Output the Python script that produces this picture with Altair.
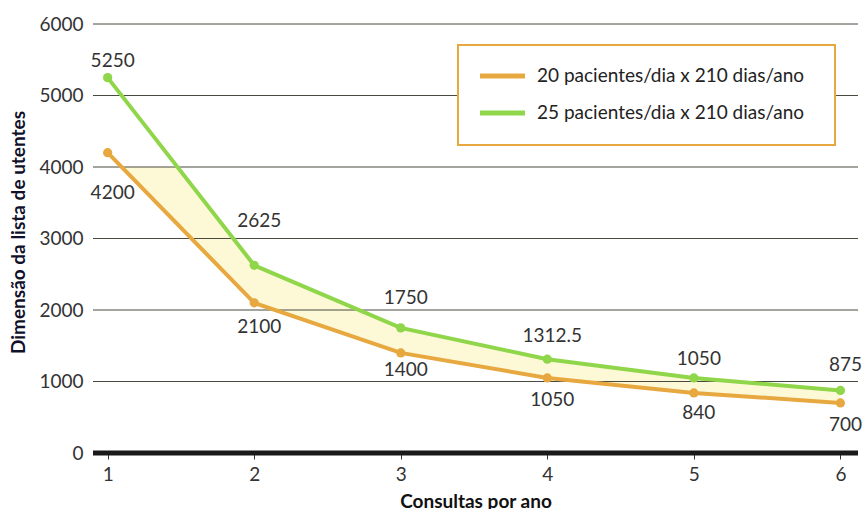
import altair as alt
import pandas as pd

# Consultations per year vs. resulting patient list size
consultas = [1, 2, 3, 4, 5, 6]
lista_20 = [4200, 2100, 1400, 1050, 840, 700]
lista_25 = [5250, 2625, 1750, 1312.5, 1050, 875]
series_names = ["20 pacientes/dia x 210 dias/ano", "25 pacientes/dia x 210 dias/ano"]
y_ticks = [0, 1000, 2000, 3000, 4000, 5000, 6000]

# label placement (pixels) for each point, per series
dy_20 = [40, 24, 17, 22, 20, 22]
dy_25 = [-17, -44, -30, -23, -19, -25]

ORANGE = "#E8A840"
GREEN = "#8FD64A"
FILL = "#FDF8D6"
TEXT = "#333333"
FONT = "Lato"
FS = 19

PLOT_W, PLOT_H = 765, 429

df = pd.DataFrame({"x": consultas, "a": lista_20, "b": lista_25})
long = pd.concat([
    pd.DataFrame({"x": consultas, "v": lista_20, "s": series_names[0],
                  "lab": [f"{v:g}" for v in lista_20], "dy": dy_20}),
    pd.DataFrame({"x": consultas, "v": lista_25, "s": series_names[1],
                  "lab": [f"{v:g}" for v in lista_25], "dy": dy_25}),
], ignore_index=True)

xs = alt.Scale(domain=[0.9, 6.12], nice=False, zero=False)
ys = alt.Scale(domain=[0, 6000], nice=False)
cs = alt.Scale(domain=series_names, range=[ORANGE, GREEN])

band = alt.Chart(df).mark_area(color=FILL, opacity=1).encode(
    x=alt.X("x:Q", scale=xs,
            axis=alt.Axis(values=consultas, format="d", grid=False, domain=False,
                          ticks=True, tickSize=6, tickColor=TEXT, labelPadding=6,
                          labelFontSize=FS, labelColor=TEXT, labelFont=FONT,
                          title="Consultas por ano", titleFontSize=19,
                          titleFontWeight="bold", titleFont=FONT, titleColor="#111",
                          titlePadding=8)),
    y=alt.Y("a:Q", scale=ys,
            axis=alt.Axis(values=y_ticks, format="d", grid=False, domain=False,
                          ticks=False, labelPadding=10, labelFontSize=FS,
                          labelColor=TEXT, labelFont=FONT,
                          title="Dimensão da lista de utentes",
                          titleFontSize=19, titleFontWeight="bold", titleFont=FONT,
                          titleColor="#10102a", titleAngle=-90, titleX=-75,
                          titleY=208, titleAlign="center", titleBaseline="middle")),
    y2="b:Q",
)

# the shaded band stops at the 4000 gridline
band_cap = alt.Chart(pd.DataFrame({"x0": [0.9], "x1": [2], "y0": [4000], "y1": [6000]})).mark_rect(
    color="white").encode(x=alt.X("x0:Q", scale=xs), x2="x1:Q",
                          y=alt.Y("y0:Q", scale=ys), y2="y1:Q")

grid = alt.Chart(pd.DataFrame({"y": y_ticks[1:]})).mark_rule(
    color="#4a4a40", strokeWidth=1).encode(
    y=alt.Y("y:Q", scale=ys), x=alt.value(0), x2=alt.value(PLOT_W))

zero = alt.Chart(pd.DataFrame({"y": [0]})).mark_rule(
    color="#1a1a1a", strokeWidth=5).encode(
    y=alt.Y("y:Q", scale=ys), x=alt.value(0), x2=alt.value(PLOT_W))

# legend box
LX0, LX1, LY0, LY1 = 365, 742, 21, 121
ROW_Y = [LY0 + 31, LY0 + 68]
legend_box = alt.Chart(pd.DataFrame({"k": [0]})).mark_rect(
    fill="white", stroke=ORANGE, strokeWidth=2).encode(
    x=alt.value(LX0), x2=alt.value(LX1), y=alt.value(LY0), y2=alt.value(LY1))

legend_layers = []
for name, col, ry in zip(series_names, [ORANGE, GREEN], ROW_Y):
    row = pd.DataFrame({"s": [name]})
    legend_layers.append(alt.Chart(row).mark_rule(strokeWidth=5, color=col).encode(
        x=alt.value(LX0 + 22), x2=alt.value(LX0 + 67), y=alt.value(ry)))
    legend_layers.append(alt.Chart(row).mark_text(
        align="left", baseline="middle", fontSize=FS, font=FONT, color="#222").encode(
        x=alt.value(LX0 + 79), y=alt.value(ry), text="s:N"))

lines = alt.Chart(long).mark_line(strokeWidth=4).encode(
    x=alt.X("x:Q", scale=xs), y=alt.Y("v:Q", scale=ys),
    color=alt.Color("s:N", scale=cs, legend=None))
points = alt.Chart(long).mark_circle(size=85, opacity=1).encode(
    x=alt.X("x:Q", scale=xs), y=alt.Y("v:Q", scale=ys),
    color=alt.Color("s:N", scale=cs, legend=None))

labels = []
for i, row in long.iterrows():
    labels.append(
        alt.Chart(long.iloc[[i]]).mark_text(
            fontSize=FS, font=FONT, color=TEXT, dx=5, dy=int(row["dy"]),
            baseline="middle").encode(
            x=alt.X("x:Q", scale=xs), y=alt.Y("v:Q", scale=ys), text="lab:N"))

chart = alt.layer(
    band, band_cap, grid, zero, legend_box, *legend_layers,
    lines, points, *labels
).properties(
    width=PLOT_W, height=PLOT_H,
    background="white",
    padding={"left": 93, "top": 24, "right": 4, "bottom": 56},
    autosize=alt.AutoSizeParams(type="none"),
).configure_view(stroke=None, strokeWidth=0).configure_axis(
    domain=False, grid=False)

chart.save("out.html", embed_options={"renderer": "svg", "actions": False})
